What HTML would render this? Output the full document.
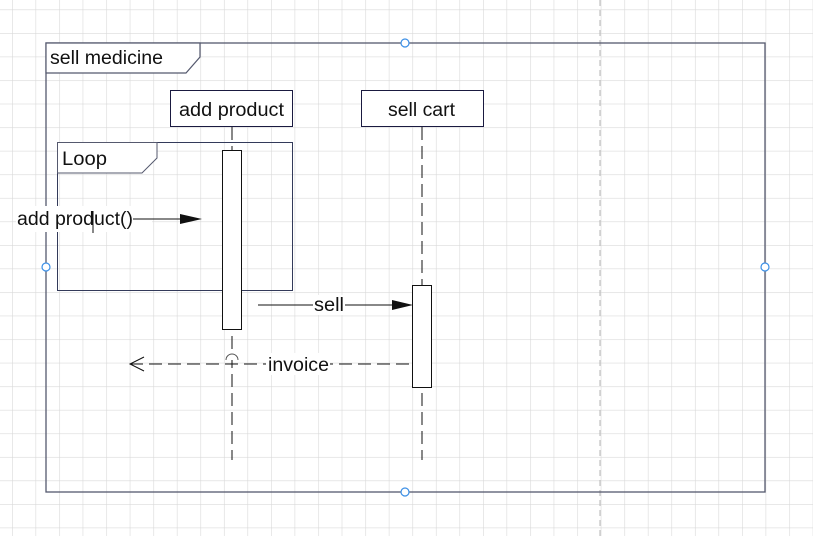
<!DOCTYPE html>
<html><head><meta charset="utf-8"><style>
html,body{margin:0;padding:0;background:#fff;}
svg{display:block;font-family:"Liberation Sans",Arial,sans-serif;}
</style></head><body>
<svg width="813" height="536" viewBox="0 0 813 536" xmlns="http://www.w3.org/2000/svg">
<defs>
<pattern id="g" x="12" y="9.5" width="23.55" height="23.55" patternUnits="userSpaceOnUse">
<path d="M0 0H23.55M0 0V23.55" stroke="#d9d9d9" stroke-width="1.2" fill="none"/>
</pattern>
</defs>
<rect width="813" height="536" fill="url(#g)"/>
<line x1="600" y1="0" x2="600" y2="536" stroke="#b5b5b5" stroke-dasharray="6,4"/>
<!-- outer frame -->
<rect x="46" y="43" width="719" height="449" fill="none" stroke="#55596e" stroke-width="1.3"/>
<path d="M46 43H200V57L186 73H46Z" fill="#fff" stroke="#55596e" stroke-width="1.2"/>
<text x="50" y="64" font-size="19" fill="#111" textLength="113" lengthAdjust="spacingAndGlyphs">sell medicine</text>
<!-- lifeline boxes -->
<rect x="170.5" y="90.5" width="122" height="36" fill="#fff" stroke="#1a1a40"/>
<text x="179" y="116" font-size="19" fill="#111" textLength="105" lengthAdjust="spacingAndGlyphs">add product</text>
<rect x="361.5" y="90.5" width="122" height="36" fill="#fff" stroke="#1a1a40"/>
<text x="388" y="116" font-size="19" fill="#111" textLength="67" lengthAdjust="spacingAndGlyphs">sell cart</text>
<line x1="232" y1="127" x2="232" y2="460" stroke="#111" stroke-dasharray="13,6"/>
<line x1="422" y1="127" x2="422" y2="460" stroke="#111" stroke-dasharray="13,6"/>
<!-- loop frame -->
<rect x="57.5" y="142.5" width="235" height="148" fill="none" stroke="#333a5a"/>
<path d="M57.5 142.5H157V158L142 173H57.5Z" fill="#fff" stroke="#55596e"/>
<text x="62" y="165" font-size="19" fill="#111" textLength="45" lengthAdjust="spacingAndGlyphs">Loop</text>
<!-- activations -->
<rect x="222.5" y="150.5" width="19" height="179" fill="#fff" stroke="#111"/>
<rect x="412.5" y="285.5" width="19" height="102" fill="#fff" stroke="#111"/>
<!-- add product() -->
<rect x="16" y="206" width="136" height="26" fill="#fff"/>
<text x="17" y="225" font-size="19" fill="#111" textLength="116" lengthAdjust="spacingAndGlyphs">add product()</text>
<line x1="93" y1="211" x2="93" y2="233" stroke="#111"/>
<line x1="133" y1="219" x2="184" y2="219" stroke="#111"/>
<path d="M180 214L202 219L180 224Z" fill="#111"/>
<!-- sell -->
<line x1="258" y1="305" x2="400" y2="305" stroke="#111"/>
<path d="M392 300L413 305L392 310Z" fill="#111"/>
<rect x="313" y="295" width="32" height="20" fill="#fff"/>
<text x="314" y="311" font-size="19" fill="#111" textLength="30" lengthAdjust="spacingAndGlyphs">sell</text>
<!-- invoice -->
<line x1="130" y1="364" x2="412" y2="364" stroke="#111" stroke-dasharray="13,6"/>
<path d="M144 357L130 364L144 371" fill="none" stroke="#111"/>
<path d="M226 360A6 6 0 0 1 238 360" fill="#fff" stroke="#555"/>
<rect x="266" y="353" width="64" height="22" fill="#fff"/>
<text x="268" y="371" font-size="19" fill="#111" textLength="61" lengthAdjust="spacingAndGlyphs">invoice</text>
<!-- handles -->
<g fill="#fff" stroke="#3b8fe6" stroke-width="1.2">
<circle cx="405" cy="43" r="4"/><circle cx="405" cy="492" r="4"/>
<circle cx="46" cy="267" r="4"/><circle cx="765" cy="267" r="4"/>
</g>
</svg>
</body></html>
